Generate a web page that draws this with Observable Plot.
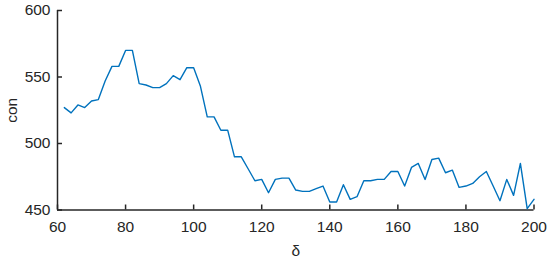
<!DOCTYPE html>
<html>
<head>
<meta charset="utf-8">
<script src="https://cdn.jsdelivr.net/npm/d3@7"></script>
<script src="https://cdn.jsdelivr.net/npm/@observablehq/plot@0.6"></script>
<style>
  html, body { margin: 0; padding: 0; background: #fff; }
</style>
</head>
<body>
<div id="chart"></div>
<script>
const delta = [62, 64, 66, 68, 70, 72, 74, 76, 78, 80, 82, 84, 86, 88, 90, 92, 94, 96, 98, 100,
  102, 104, 106, 108, 110, 112, 114, 116, 118, 120, 122, 124, 126, 128, 130, 132, 134, 136, 138, 140,
  142, 144, 146, 148, 150, 152, 154, 156, 158, 160, 162, 164, 166, 168, 170, 172, 174, 176, 178, 180,
  182, 184, 186, 188, 190, 192, 194, 196, 198, 200];
const con = [527, 523, 529, 527, 532, 533, 547, 558, 558, 570, 570, 545, 544, 542, 542, 545, 551, 548, 557, 557,
  543, 520, 520, 510, 510, 490, 490, 481, 472, 473, 463, 473, 474, 474, 465, 464, 464, 466, 468, 456,
  456, 469, 458, 460, 472, 472, 473, 473, 479, 479, 468, 482, 485, 473, 488, 489, 478, 480, 467, 468,
  470, 475, 479, 468, 457, 473, 461, 485, 451, 458];
const xTicks = [60, 80, 100, 120, 140, 160, 180, 200];
const yTicks = [450, 500, 550, 600];

const data = delta.map((d, i) => ({delta: d, con: con[i]}));
const ink = "#262626";
const xMin = xTicks[0], yMin = yTicks[0];

const chart = Plot.plot({
  width: 550,
  height: 259,
  marginLeft: 57,
  marginRight: 16.5,
  marginTop: 10,
  marginBottom: 49.5,
  style: {fontFamily: "'Liberation Sans', Arial, sans-serif", fontSize: "15.5px", color: ink, background: "#fff"},
  x: {domain: [60, 200]},
  y: {domain: [450, 600]},
  marks: [
    Plot.axisX({ticks: xTicks, tickSize: 0, tickPadding: 10.5, fill: ink,
      label: "δ", labelAnchor: "center", labelArrow: "none", labelOffset: 46, fontSize: 15.5}),
    Plot.axisY({ticks: yTicks, tickSize: 0, tickPadding: 7, fill: ink,
      label: "con", labelAnchor: "center", labelArrow: "none", labelOffset: 52, fontSize: 15.5}),
    // inward tick marks
    Plot.ruleX(xTicks, {x: d => d, y1: yMin, y2: yMin, insetBottom: 5, stroke: ink, strokeWidth: 1.5}),
    Plot.ruleY(yTicks, {y: d => d, x1: xMin, x2: xMin, insetLeft: 5, stroke: ink, strokeWidth: 1.5}),
    // axis lines
    Plot.ruleX([xMin], {stroke: ink, strokeWidth: 1.5}),
    Plot.ruleY([yMin], {stroke: ink, strokeWidth: 1.5}),
    Plot.line(data, {x: "delta", y: "con", stroke: "#0072BD", strokeWidth: 1.4})
  ]
});
document.getElementById("chart").appendChild(chart);
</script>
</body>
</html>
